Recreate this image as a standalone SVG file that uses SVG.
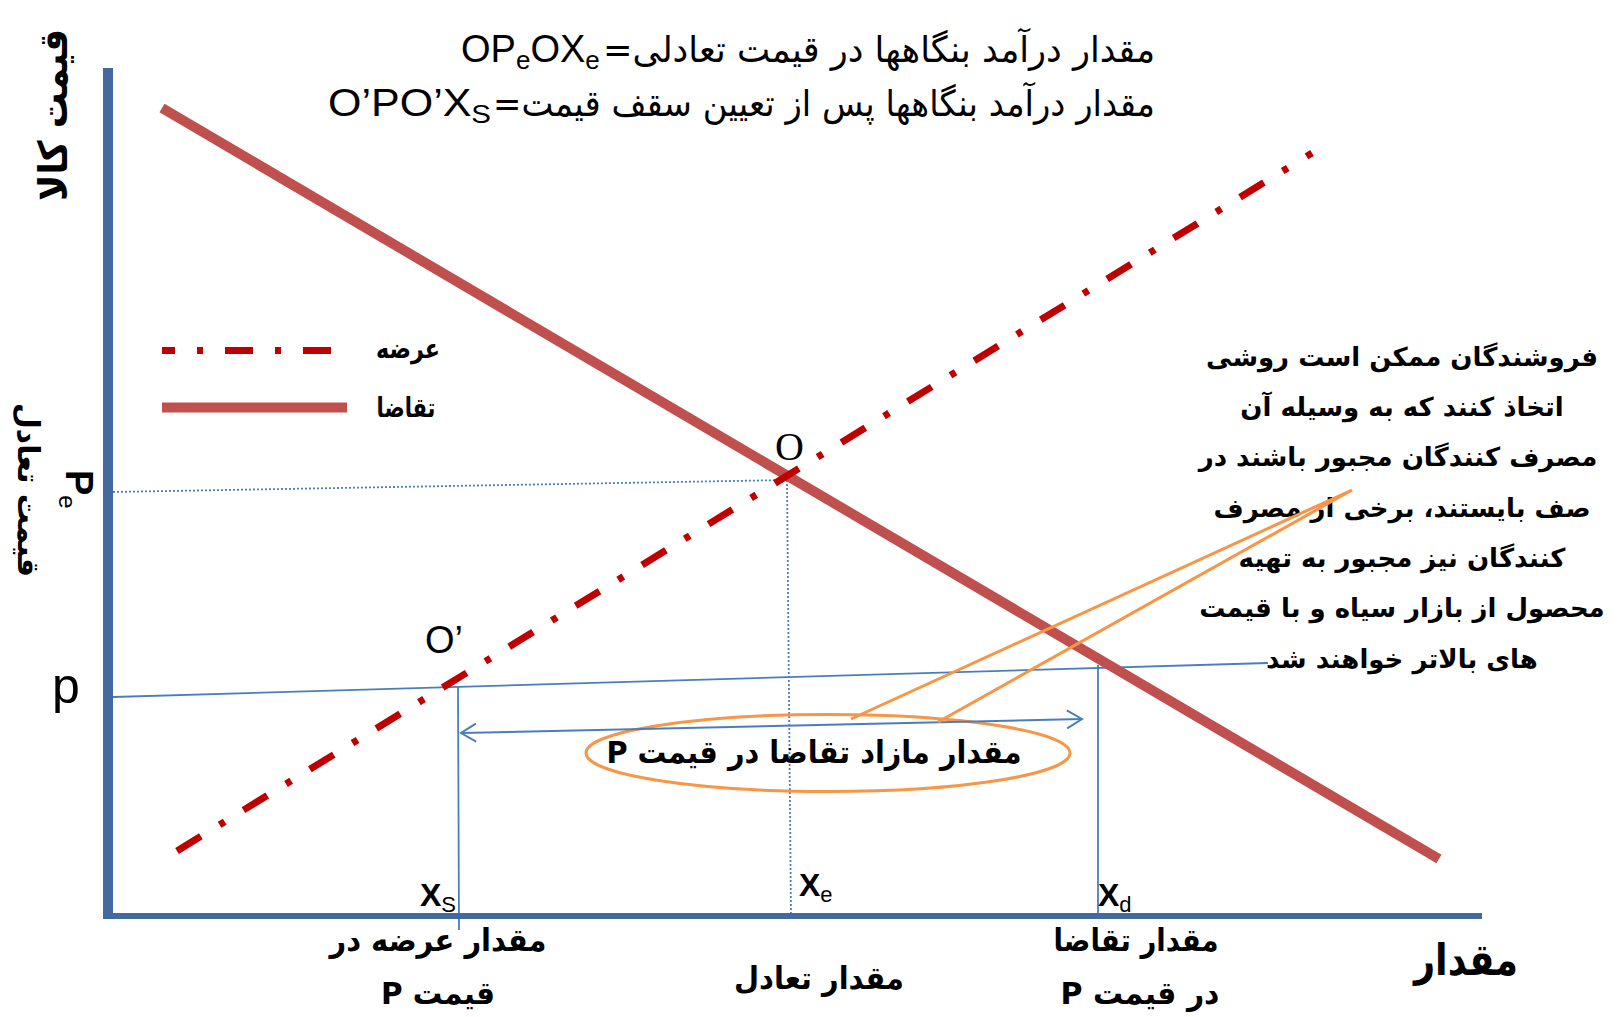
<svg xmlns="http://www.w3.org/2000/svg" width="1617" height="1017" viewBox="0 0 1617 1017">
<style>
.ax{stroke:#44699e;fill:none}
.thin{stroke:#4a7ebb;stroke-width:1.8;fill:none}
.dot{stroke:#4a7ebb;stroke-width:1.8;stroke-dasharray:2 2;fill:none}
.dem{stroke:#c0504d;stroke-width:10;fill:none}
.sup{stroke:#c00000;stroke-width:7;stroke-dasharray:28 22 6 22;fill:none}
.or{stroke:#f79646;stroke-width:3;fill:none}
.fa{font-family:"DejaVu Sans",sans-serif;fill:#000}
.b{font-weight:bold}
.lat{font-family:"Liberation Sans",Arial,sans-serif;fill:#000}
.ser{font-family:"Liberation Serif","Times New Roman",serif;fill:#000}
</style>
<defs>
<marker id="arr" viewBox="-17 -11 19 22" markerWidth="19" markerHeight="22" refX="0" refY="0" orient="auto-start-reverse" markerUnits="userSpaceOnUse">
<path d="M-15,-9 L0,0 L-15,9" fill="none" stroke="#4a7ebb" stroke-width="2"/>
</marker>
</defs>
<rect width="1617" height="1017" fill="#fff"/>

<g id="guides">
<line class="dot" x1="113" y1="492" x2="787" y2="480"/>
<line class="dot" x1="787" y1="480" x2="791" y2="916"/>
<line class="thin" x1="113" y1="697" x2="1268" y2="663"/>
<line class="thin" x1="458" y1="687" x2="459" y2="930"/>
<line class="thin" x1="1098" y1="665" x2="1098" y2="916"/>
</g>

<g id="axes">
<line class="ax" x1="108" y1="68" x2="108" y2="919" stroke-width="10"/>
<line class="ax" x1="103" y1="916" x2="1482" y2="916" stroke-width="6"/>
</g>

<g id="demand">
<line class="dem" x1="162" y1="108" x2="1439" y2="859"/>
</g>
<g id="supply">
<line class="sup" x1="177" y1="851" x2="1312" y2="153"/>
</g>

<g id="legend">
<line class="sup" x1="162" y1="350.5" x2="332" y2="350.5" stroke-dashoffset="15"/>
<line class="dem" x1="162" y1="407.5" x2="347" y2="407.5" stroke-width="11"/>
<text class="fa b" x="408" y="358" font-size="27" text-anchor="middle" direction="rtl" textLength="64" lengthAdjust="spacingAndGlyphs">عرضه</text>
<text class="fa b" x="406" y="417" font-size="27" text-anchor="middle" direction="rtl" textLength="59" lengthAdjust="spacingAndGlyphs">تقاضا</text>
</g>

<g id="title">
<text class="fa" x="879" y="62" font-size="36" text-anchor="middle" direction="rtl" textLength="552" lengthAdjust="spacingAndGlyphs">مقدار درآمد بنگاهها در قیمت تعادلی=</text>
<text class="lat" x="461" y="62" font-size="38">OP<tspan font-size="26" baseline-shift="-7">e</tspan>OX<tspan font-size="26" baseline-shift="-7">e</tspan></text>
<text class="fa" x="824" y="116" font-size="36" text-anchor="middle" direction="rtl" textLength="662" lengthAdjust="spacingAndGlyphs">مقدار درآمد بنگاهها پس از تعیین سقف قیمت=</text>
<text class="lat" x="328" y="116" font-size="38" textLength="163" lengthAdjust="spacingAndGlyphs">O’PO’X<tspan font-size="26" baseline-shift="-7">S</tspan></text>
</g>

<g id="axis-labels">
<text class="fa b" transform="translate(67,115) rotate(-90)" font-size="40" text-anchor="middle" direction="rtl" textLength="172" lengthAdjust="spacingAndGlyphs">قیمت کالا</text>
<text class="fa b" transform="translate(18,490) rotate(90)" font-size="30" text-anchor="middle" direction="rtl" textLength="174" lengthAdjust="spacingAndGlyphs">قیمت تعادل</text>
<text class="lat b" transform="translate(66,470) rotate(90)" font-size="38">P<tspan font-size="24" baseline-shift="-7" font-weight="normal">e</tspan></text>
<text class="lat" x="52" y="703" font-size="50">p</text>
<text class="fa b" x="1466" y="975" font-size="44" text-anchor="middle" direction="rtl" textLength="104" lengthAdjust="spacingAndGlyphs">مقدار</text>
</g>

<g id="points">
<text class="ser" x="775" y="460" font-size="40">O</text>
<text class="lat" x="425" y="653" font-size="38">O’</text>
<text class="lat b" x="420" y="906" font-size="32">X<tspan font-size="22" baseline-shift="-6" font-weight="normal">S</tspan></text>
<text class="lat b" x="799" y="896" font-size="32">X<tspan font-size="22" baseline-shift="-6" font-weight="normal">e</tspan></text>
<text class="lat b" x="1098" y="906" font-size="32">X<tspan font-size="22" baseline-shift="-6" font-weight="normal">d</tspan></text>
</g>

<g id="bottom-labels">
<text class="fa b" x="438" y="951" font-size="31" text-anchor="middle" direction="rtl" textLength="217" lengthAdjust="spacingAndGlyphs">مقدار عرضه در</text>
<text class="fa b" x="438" y="1004" font-size="31" text-anchor="middle" direction="rtl" textLength="114" lengthAdjust="spacingAndGlyphs">قیمت P</text>
<text class="fa b" x="819" y="989" font-size="31" text-anchor="middle" direction="rtl" textLength="170" lengthAdjust="spacingAndGlyphs">مقدار تعادل</text>
<text class="fa b" x="1136" y="951" font-size="31" text-anchor="middle" direction="rtl" textLength="165" lengthAdjust="spacingAndGlyphs">مقدار تقاضا</text>
<text class="fa b" x="1140" y="1004" font-size="31" text-anchor="middle" direction="rtl" textLength="159" lengthAdjust="spacingAndGlyphs">در قیمت P</text>
</g>

<g id="excess-demand">
<ellipse class="or" cx="828" cy="753" rx="242" ry="38.5"/>
<text class="fa b" x="814" y="763" font-size="31" text-anchor="middle" direction="rtl" textLength="415" lengthAdjust="spacingAndGlyphs">مقدار مازاد تقاضا در قیمت P</text>
</g>

<g id="note">
<text class="fa b" x="1402" y="366" font-size="26" text-anchor="middle" direction="rtl">فروشندگان ممکن است روشی</text>
<text class="fa b" x="1402" y="416" font-size="26" text-anchor="middle" direction="rtl">اتخاذ کنند که به وسیله آن</text>
<text class="fa b" x="1398" y="466" font-size="26" text-anchor="middle" direction="rtl">مصرف کنندگان مجبور باشند در</text>
<text class="fa b" x="1402" y="517" font-size="26" text-anchor="middle" direction="rtl">صف بایستند، برخی از مصرف</text>
<text class="fa b" x="1402" y="567" font-size="26" text-anchor="middle" direction="rtl">کنندگان نیز مجبور به تهیه</text>
<text class="fa b" x="1402" y="617" font-size="26" text-anchor="middle" direction="rtl">محصول از بازار سیاه و با قیمت</text>
<text class="fa b" x="1402" y="668" font-size="26" text-anchor="middle" direction="rtl">های بالاتر خواهند شد</text>
</g>

<g id="connectors">
<line x1="461" y1="733" x2="1082" y2="719" stroke="#4a7ebb" stroke-width="2" marker-start="url(#arr)" marker-end="url(#arr)"/>
<polyline class="or" points="851,719 1352,490 938,722"/>
</g>
</svg>
